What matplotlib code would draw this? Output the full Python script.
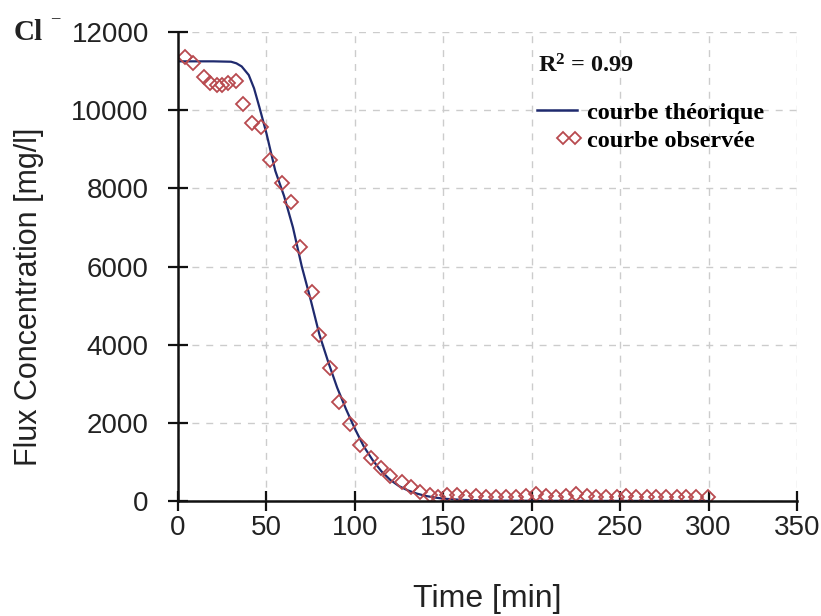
import matplotlib
matplotlib.use("Agg")
import matplotlib.pyplot as plt
from matplotlib.lines import Line2D
from matplotlib.legend_handler import HandlerTuple

plt.rcParams['mathtext.fontset'] = 'custom'
plt.rcParams['mathtext.rm'] = 'Liberation Serif:bold'
plt.rcParams['mathtext.bf'] = 'Liberation Serif:bold'
plt.rcParams['mathtext.it'] = 'Liberation Serif:bold'

# Theoretical curve (min, mg/l)
t_theo = [0, 10, 20, 30, 33, 36, 40, 43, 46, 50, 55, 60, 65, 70, 75, 80, 85, 90,
          95, 100, 105, 110, 115, 120, 125, 130, 135, 140, 145, 150, 160, 175,
          200, 250, 300]
c_theo = [11250, 11250, 11250, 11240, 11200, 11120, 10900, 10560, 10080, 9410,
          8450, 7800, 7000, 6000, 5150, 4250, 3550, 2900, 2350, 1850, 1400,
          1050, 760, 540, 380, 270, 190, 130, 90, 60, 30, 12, 5, 2, 0]

# Observed curve (min, mg/l)
t_obs = [4, 8.5, 14.5, 18, 22, 25, 28, 33, 37, 42, 47, 52, 59, 64, 69, 76, 80,
         86, 91, 97, 103, 109, 114.5, 120, 126.5, 132, 137, 142.5, 147, 152,
         157.5, 163, 168.5, 174, 180, 185.5, 191, 197, 202.5, 208, 214, 219.5,
         225, 231, 236.5, 242, 248, 253.5, 259, 265, 270.5, 276, 282, 287.5,
         293, 299.5]
c_obs = [11350, 11200, 10850, 10700, 10650, 10650, 10700, 10750, 10150, 9670,
         9560, 8720, 8130, 7650, 6500, 5350, 4250, 3400, 2530, 1960, 1430,
         1100, 840, 640, 490, 360, 230, 150, 100, 150, 150, 100, 120, 110, 100,
         110, 100, 130, 180, 120, 110, 130, 190, 130, 110, 110, 100, 120, 110,
         110, 100, 110, 100, 110, 100, 90]

x_ticks = [0, 50, 100, 150, 200, 250, 300, 350]
y_ticks = [0, 2000, 4000, 6000, 8000, 10000, 12000]

fig = plt.figure(figsize=(8.21, 6.16), dpi=100)
ax = fig.add_axes([0.2168, 0.1867, 0.754, 0.7613])

ax.plot(t_theo, c_theo, color='#1f2a6e', lw=1.6, zorder=3)
ax.plot(t_obs, c_obs, linestyle='none', marker='D', markersize=7.5,
        markerfacecolor='none', markeredgecolor='#b84a4f', markeredgewidth=1.3,
        zorder=4)

ax.set_xlim(0, 350)
ax.set_ylim(0, 12000)
ax.set_xticks(x_ticks)
ax.set_yticks(y_ticks)
ax.grid(True, color='#cccccc', linestyle=(0, (5, 5)), linewidth=1.0, zorder=0)
ax.set_axisbelow(True)

for s in ['top', 'right']:
    ax.spines[s].set_visible(False)
for s in ['left', 'bottom']:
    ax.spines[s].set_linewidth(1.8)
    ax.spines[s].set_color('#111111')
    ax.spines[s].set_zorder(5)

ax.tick_params(axis='both', direction='inout', length=14, width=1.6,
               color='#111111', labelsize=20, labelcolor='#222222',
               labelfontfamily='Liberation Sans')
ax.tick_params(axis='x', pad=3)
ax.tick_params(axis='y', pad=14)

ax.set_xlabel('Time [min]', fontsize=23, family='Liberation Sans',
              color='#222222')
ax.xaxis.set_label_coords(0.5, -0.177)
ax.set_ylabel('Flux Concentration [mg/l]', fontsize=22, family='Liberation Sans',
              color='#222222')
ax.yaxis.set_label_coords(-0.217, 0.435)

fig.text(0.016, 0.935, 'Cl', fontsize=21, family='Liberation Serif',
         fontweight='bold', color='#222222')
fig.text(0.0625, 0.950, '\u00af', fontsize=12, family='Liberation Serif',
         fontweight='bold', color='#222222')

ax.text(0.582, 0.927, r'R$^2$ = 0.99', transform=ax.transAxes, fontsize=17.5,
        family='Liberation Serif', fontweight='bold', va='center', color='#111111')

h_line = Line2D([], [], color='#1f2a6e', lw=1.8)
blank = Line2D([], [], linestyle='none', marker='none')
m1 = Line2D([], [], linestyle='none', marker='D', markersize=6,
            markerfacecolor='none', markeredgecolor='#b84a4f', markeredgewidth=1.3)
m2 = Line2D([], [], linestyle='none', marker='D', markersize=6,
            markerfacecolor='none', markeredgecolor='#b84a4f', markeredgewidth=1.3)

leg = ax.legend([h_line, (blank, blank, m1, m2)],
                ['courbe théorique', 'courbe observée'],
                handler_map={tuple: HandlerTuple(ndivide=4, pad=0.33)},
                loc='center left', bbox_to_anchor=(0.58, 0.798),
                frameon=False, handlelength=1.64, handletextpad=0.41,
                labelspacing=0.25, borderaxespad=0, borderpad=0,
                prop={'family': 'Liberation Serif', 'weight': 'bold', 'size': 17.5})

fig.savefig('out.png', dpi=100)
